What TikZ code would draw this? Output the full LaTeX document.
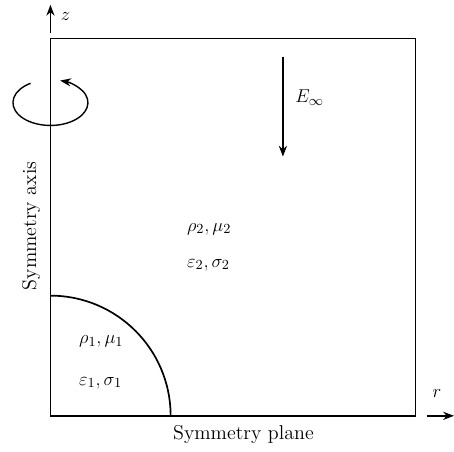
\documentclass[tikz,border=0pt]{standalone}
\usetikzlibrary{arrows.meta}

\begin{document}
\begin{tikzpicture}[scale=1, line width=1.1pt, font=\fontsize{13}{15}\selectfont]

\useasboundingbox (-1.15,-0.82) rectangle (9.20,9.48);

% domain
\draw (0,0) rectangle (8.32,8.60);
\draw (2.74,0) arc (0:90:2.74);

% axes
\draw[->,>=Stealth, line width=0.9pt] (0,8.73)--(0,9.37);
\node[anchor=west] (zlab) at (0.10,9.10) {$z$};
\draw[->,>=Stealth, line width=0.9pt] (8.58,0)--(9.20,0);
\node (rlab) at (8.81,0.52) {$r$};

% field
\draw[->,>=Stealth, line width=0.9pt] (5.30,8.19)--(5.30,5.91);
\node[anchor=west] (Elab) at (5.45,7.25) {$E_\infty$};

% rotation
\draw[->,>=Stealth, line width=0.9pt] (0,7.14) ++(122:0.855 and 0.52) arc (122:435:0.855 and 0.52);

\node[anchor=west] (out1) at (2.98,4.26) {$\rho_2,\mu_2$};
\node[anchor=west] (out2) at (2.98,3.44) {$\varepsilon_2,\sigma_2$};
\node[anchor=west] (in1) at (0.52,1.69) {$\rho_1,\mu_1$};
\node[anchor=west] (in2) at (0.52,0.75) {$\varepsilon_1,\sigma_1$};

\node[rotate=90] (axis) at (-0.44,4.33) {Symmetry axis};
\node[anchor=west] (plane) at (2.66,-0.43) {Symmetry plane};

\end{tikzpicture}
\end{document}
